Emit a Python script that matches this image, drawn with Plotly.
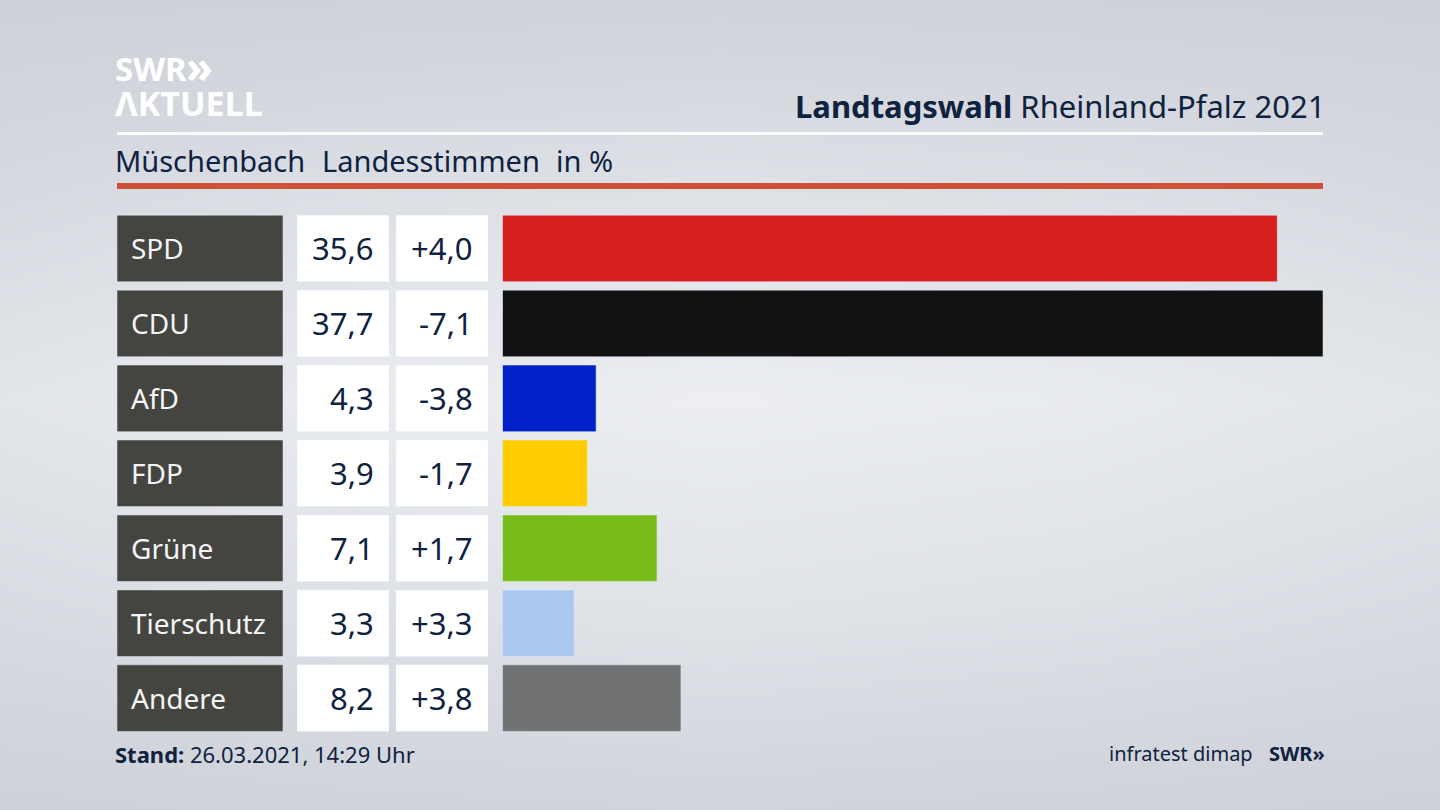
import plotly.graph_objects as go

parties = ['SPD', 'CDU', 'AfD', 'FDP', 'Grüne', 'Tierschutz', 'Andere']
share = [35.6, 37.7, 4.3, 3.9, 7.1, 3.3, 8.2]
diff = [4.0, -7.1, -3.8, -1.7, 1.7, 3.3, 3.8]
colors = ['#d71f1d', '#121212', '#0021c8', '#ffcc00', '#78bc1b', '#adc8f0', '#717274']

# background brightness, rough reading of the grey gradient
bg_x = [0, 360, 720, 1080, 1440]
bg_y = [0, 200, 400, 600, 810]
bg_z = [[0.12, 0.15, 0.18, 0.15, 0.12],
        [0.40, 0.55, 0.62, 0.55, 0.40],
        [0.72, 0.92, 1.00, 0.92, 0.72],
        [0.45, 0.60, 0.68, 0.60, 0.45],
        [0.12, 0.18, 0.22, 0.18, 0.12]]

FONT = 'Noto Sans'
NAVY = '#0f2240'
W, H = 1440, 810


def fmt(v, sign=False):
    s = f'{v:+.1f}' if sign else f'{v:.1f}'
    return s.replace('.', ',')


def px_x(a, b):
    return [a / W, b / W]


fig = go.Figure()

# background goes on the first axes so it stays below everything
fig.add_trace(go.Heatmap(x=bg_x, y=bg_y, z=bg_z, zsmooth='best', showscale=False, hoverinfo='skip',
                         zmin=0, zmax=1, colorscale=[[0, '#c9cdd4'], [1, '#eceef2']]))

one = [1] * len(parties)
fig.add_trace(go.Bar(x=one, y=parties, orientation='h', marker_color='#444441', xaxis='x2', yaxis='y2'))
fig.add_trace(go.Bar(x=one, y=parties, orientation='h', marker_color='#ffffff', xaxis='x3', yaxis='y2'))
fig.add_trace(go.Bar(x=one, y=parties, orientation='h', marker_color='#ffffff', xaxis='x4', yaxis='y2'))
fig.add_trace(go.Bar(x=share, y=parties, orientation='h', marker_color=colors, xaxis='x5', yaxis='y2'))

hidden = dict(visible=False, fixedrange=True)
fig.update_layout(
    width=W, height=H, margin=dict(l=0, r=0, t=0, b=0),
    showlegend=False, bargap=0.112,
    paper_bgcolor='#dfe1e6', plot_bgcolor='rgba(0,0,0,0)',
    font=dict(family=FONT, color=NAVY),
    xaxis=dict(domain=[0, 1], range=[0, W], **hidden),
    yaxis=dict(domain=[0, 1], range=[H, 0], **hidden),
    xaxis2=dict(domain=px_x(117, 283), range=[0, 1], anchor='y2', **hidden),
    xaxis3=dict(domain=px_x(297, 389), range=[0, 1], anchor='y2', **hidden),
    xaxis4=dict(domain=px_x(396, 488), range=[0, 1], anchor='y2', **hidden),
    xaxis5=dict(domain=px_x(502.5, 1323), range=[0, 37.7], anchor='y2', **hidden),
    yaxis2=dict(domain=[1 - 735.6 / H, 1 - 211 / H], autorange='reversed', type='category',
                anchor='x2', **hidden),
)

for p, s, d in zip(parties, share, diff):
    fig.add_annotation(x=0, y=p, xref='x2', yref='y2', text=p, showarrow=False, xanchor='left', xshift=12,
                       font=dict(size=28, color='#f4f4f4'))
    fig.add_annotation(x=1, y=p, xref='x3', yref='y2', text=fmt(s), showarrow=False, xanchor='right', xshift=-13,
                       font=dict(size=31, color=NAVY))
    fig.add_annotation(x=1, y=p, xref='x4', yref='y2', text=fmt(d, True), showarrow=False, xanchor='right', xshift=-13,
                       font=dict(size=31, color=NAVY))


def label(text, x, y, size, color=NAVY, anchor='left'):
    fig.add_annotation(x=x / W, y=1 - y / H, xref='paper', yref='paper', text=text, showarrow=False,
                       xanchor=anchor, yanchor='middle', font=dict(size=size, color=color),
                       xshift=0, borderpad=0, borderwidth=0)


label('<b>SWR</b>', 115, 69, 33, '#ffffff')
label('<b>»</b>', 186, 66, 44, '#ffffff')
label('<b>ΛKTUELL</b>', 115, 103, 34, '#ffffff')
label('<b>Landtagswahl</b> Rheinland-Pfalz 2021', 1325, 106, 31, anchor='right')
label('Müschenbach', 115, 160, 29)
label('Landesstimmen', 322, 160, 29)
label('in %', 556, 160, 29)
label('<b>Stand:</b> 26.03.2021, 14:29 Uhr', 115, 754, 22)
label('infratest dimap', 1253, 753, 20, anchor='right')
label('<b>SWR»</b>', 1325, 753, 20, anchor='right')

fig.add_shape(type='rect', xref='paper', yref='paper', x0=117 / W, x1=1323 / W, y0=1 - 135 / H, y1=1 - 132 / H,
              fillcolor='#ffffff', line_width=0)
fig.add_shape(type='rect', xref='paper', yref='paper', x0=117 / W, x1=1323 / W, y0=1 - 189 / H, y1=1 - 183 / H,
              fillcolor='#cd5038', line_width=0)

fig.write_html('out.html', config=dict(displayModeBar=False), post_script="document.body.style.margin='0';")
